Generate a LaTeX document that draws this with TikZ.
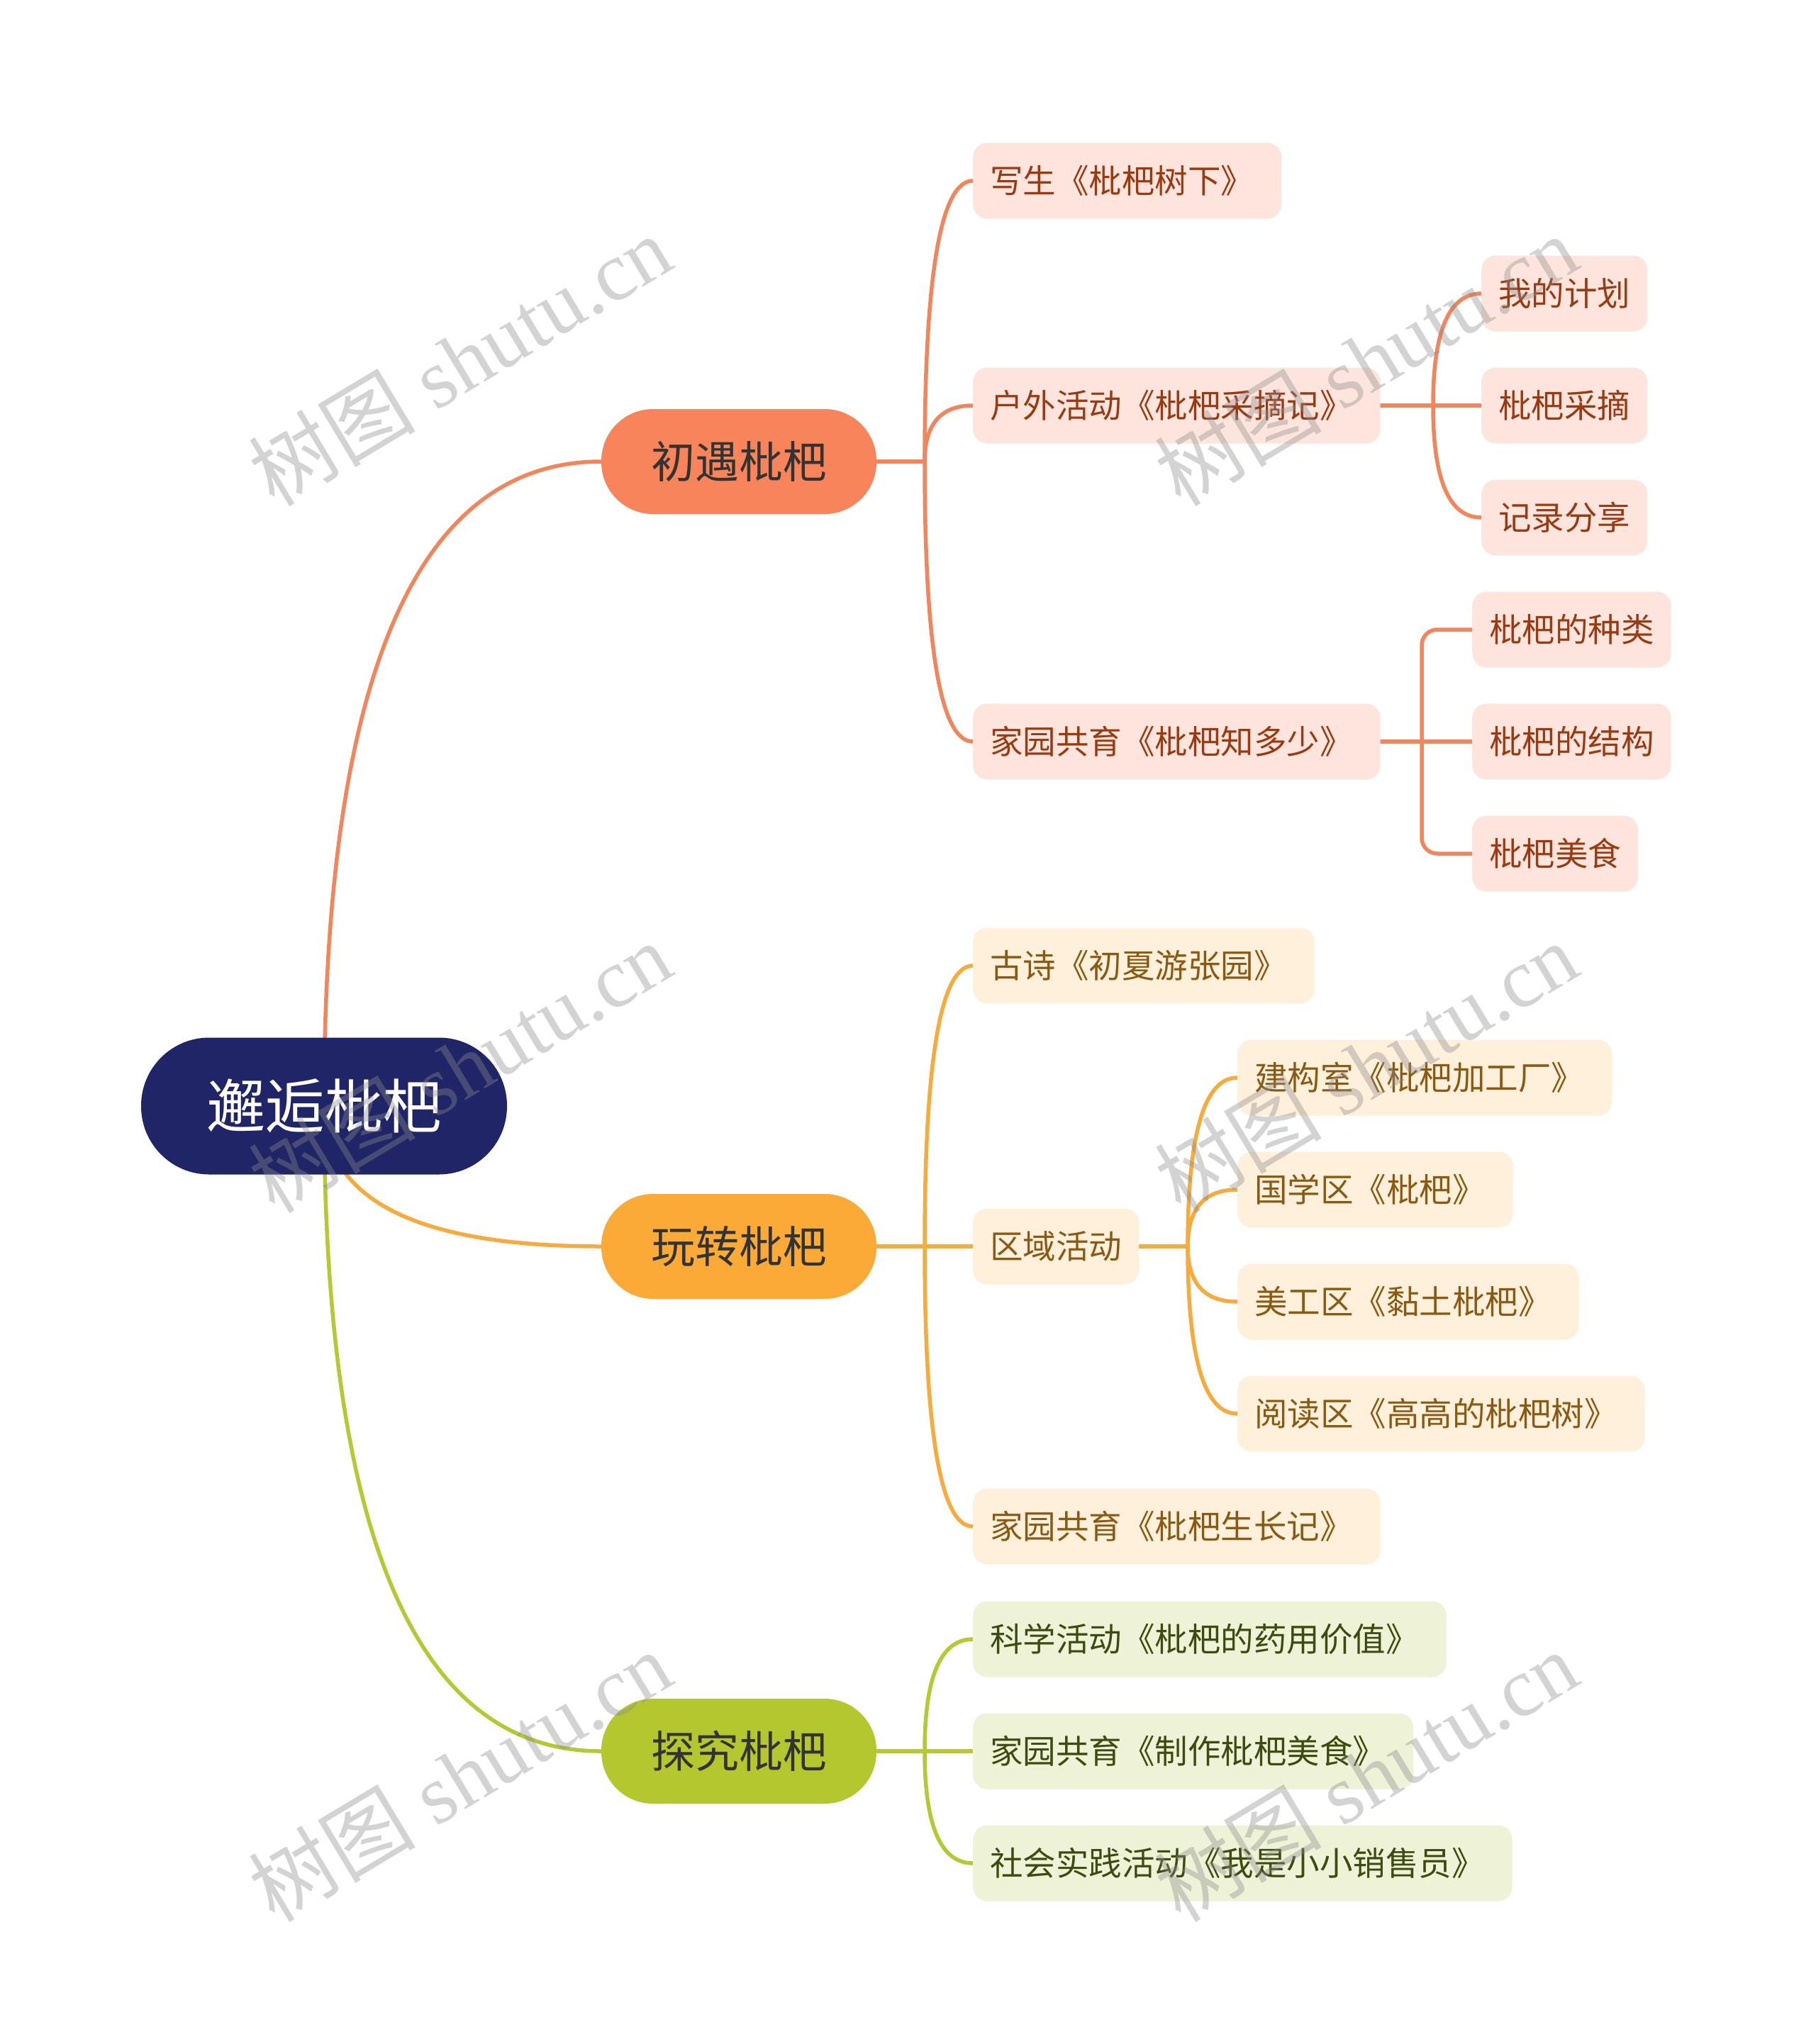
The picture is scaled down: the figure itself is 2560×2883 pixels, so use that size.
\documentclass[tikz,border=0pt]{standalone}
\usepackage{fontspec}
\setmainfont{Liberation Serif}
\newfontfamily\cjk{Noto Sans CJK SC}
\usetikzlibrary{calc,backgrounds}
\definecolor{rootc}{HTML}{1F2566}
\definecolor{coral}{HTML}{F7845A}
\definecolor{orng}{HTML}{FBAA37}
\definecolor{grn}{HTML}{B5C72E}
\definecolor{coralL}{HTML}{F2855B}
\definecolor{orngL}{HTML}{F7AB3C}
\definecolor{grnL}{HTML}{B6C935}
\definecolor{pinkF}{HTML}{FDE5DD}
\definecolor{pinkT}{HTML}{9A3A12}
\definecolor{creamF}{HTML}{FEF0DA}
\definecolor{creamT}{HTML}{8A5A14}
\definecolor{grnF}{HTML}{EEF2D6}
\definecolor{grnT}{HTML}{3D4A10}
\definecolor{darkT}{HTML}{333333}
% quadratic curve from #2 to #3, bending around the corner (#2 |- #3)
\newcommand\qlink[3]{%
  \path (#2 |- #3) coordinate (qc);
  \draw[#1] (#2) .. controls ($(#2)!0.667!(qc)$) and ($(#3)!0.667!(qc)$) .. (#3);}
% book-title brackets, with the extra trailing room of the reference
\newcommand\bkt[1]{《#1》\kern15pt}
\begin{document}
\begin{tikzpicture}[x=1pt,y=-1pt,
  rootbox/.style={fill=rootc, text=white, rounded corners=96pt, minimum width=516pt,
    minimum height=193pt, inner sep=0pt, text height=68pt, text depth=6pt,
    font=\cjk\fontsize{83}{98}\selectfont},
  topicbox/.style={rounded corners=73pt, minimum width=388pt, minimum height=148pt,
    inner sep=0pt, text=darkT, text height=52pt, text depth=5pt,
    font=\cjk\fontsize{62}{74}\selectfont},
  subbox/.style={anchor=west, rounded corners=20pt, minimum height=107pt,
    inner xsep=24pt, inner ysep=0pt, text height=38.5pt, text depth=3.5pt,
    font=\cjk\fontsize{46.5}{56}\selectfont},
  pinkbox/.style={subbox, fill=pinkF, text=pinkT},
  creambox/.style={subbox, fill=creamF, text=creamT},
  grnbox/.style={subbox, fill=grnF, text=grnT},
  link/.style={line width=5.5pt, line cap=round},
  elbow/.style={link, rounded corners=22pt},
  wmark/.style={rotate=31, text=black!45, text opacity=0.38,
    font=\fontsize{118}{118}\selectfont}
]
\useasboundingbox (0,0) rectangle (2560,2883);
\begin{pgfonlayer}{background}
\fill[white] (0,0) rectangle (2560,2883);
\end{pgfonlayer}

% root and main topics
\node[rootbox] (root) at (457,1560) {邂逅枇杷};
\node[topicbox, fill=coral] (A) at (1042,651) {初遇枇杷};
\node[topicbox, fill=orng] (B) at (1042,1758) {玩转枇杷};
\node[topicbox, fill=grn] (C) at (1042,2470) {探究枇杷};

% branch A
\node[pinkbox] (A1) at (1372,255) {写生\bkt{枇杷树下}};
\node[pinkbox] (A2) at (1372,572) {户外活动\bkt{枇杷采摘记}};
\node[pinkbox] (A3) at (1372,1046) {家园共育\bkt{枇杷知多少}};
\node[pinkbox] (A21) at (2089,414) {我的计划};
\node[pinkbox] (A22) at (2089,572) {枇杷采摘};
\node[pinkbox] (A23) at (2089,730) {记录分享};
\node[pinkbox] (A31) at (2076,888) {枇杷的种类};
\node[pinkbox] (A32) at (2076,1046) {枇杷的结构};
\node[pinkbox] (A33) at (2076,1204) {枇杷美食};

% branch B
\node[creambox] (B1) at (1372,1362) {古诗\bkt{初夏游张园}};
\node[creambox] (B2) at (1372,1758) {区域活动};
\node[creambox] (B3) at (1372,2153) {家园共育\bkt{枇杷生长记}};
\node[creambox] (B21) at (1745,1520) {建构室\bkt{枇杷加工厂}};
\node[creambox] (B22) at (1745,1678) {国学区\bkt{枇杷}};
\node[creambox] (B23) at (1745,1836) {美工区\bkt{黏土枇杷}};
\node[creambox] (B24) at (1745,1994) {阅读区\bkt{高高的枇杷树}};

% branch C
\node[grnbox] (C1) at (1372,2312) {科学活动\bkt{枇杷的药用价值}};
\node[grnbox] (C2) at (1372,2470) {家园共育\bkt{制作枇杷美食}};
\node[grnbox] (C3) at (1372,2628) {社会实践活动\bkt{我是小小销售员}};

% bracket points
\coordinate (kA) at (1304,651);
\coordinate (kA2) at (2021,572);
\coordinate (kA3) at (2005,1046);
\coordinate (kB) at (1304,1758);
\coordinate (kB2) at (1675,1758);
\coordinate (kC) at (1304,2470);

\begin{pgfonlayer}{background}
% root connectors
\qlink{link, coralL}{root.center}{A.west}
\qlink{link, orngL}{root.center}{B.west}
\qlink{link, grnL}{root.center}{C.west}

% branch A
\draw[link, coralL] (A.east) -- (kA);
\qlink{link, coralL}{kA}{A1.west}
\qlink{link, coralL}{kA}{A2.west}
\qlink{link, coralL}{kA}{A3.west}
\draw[link, coralL] (A2.east) -- (kA2) -- (A22.west);
\qlink{link, coralL}{kA2}{A21.west}
\qlink{link, coralL}{kA2}{A23.west}
\draw[link, coralL] (A3.east) -- (kA3) -- (A32.west);
\draw[elbow, coralL] (kA3) |- (A31.west);
\draw[elbow, coralL] (kA3) |- (A33.west);

% branch B
\draw[link, orngL] (B.east) -- (kB) -- (B2.west);
\qlink{link, orngL}{kB}{B1.west}
\qlink{link, orngL}{kB}{B3.west}
\draw[link, orngL] (B2.east) -- (kB2);
\qlink{link, orngL}{kB2}{B21.west}
\qlink{link, orngL}{kB2}{B22.west}
\qlink{link, orngL}{kB2}{B23.west}
\qlink{link, orngL}{kB2}{B24.west}

% branch C
\draw[link, grnL] (C.east) -- (kC) -- (C2.west);
\qlink{link, grnL}{kC}{C1.west}
\qlink{link, grnL}{kC}{C3.west}
\end{pgfonlayer}

% watermarks
\node[wmark] (wm1) at (648,508) {{\cjk 树图} shutu.cn};
\node[wmark] (wm2) at (1926,508) {{\cjk 树图} shutu.cn};
\node[wmark] (wm3) at (648,1505) {{\cjk 树图} shutu.cn};
\node[wmark] (wm4) at (1926,1505) {{\cjk 树图} shutu.cn};
\node[wmark] (wm5) at (648,2505) {{\cjk 树图} shutu.cn};
\node[wmark] (wm6) at (1926,2505) {{\cjk 树图} shutu.cn};
\end{tikzpicture}
\end{document}
